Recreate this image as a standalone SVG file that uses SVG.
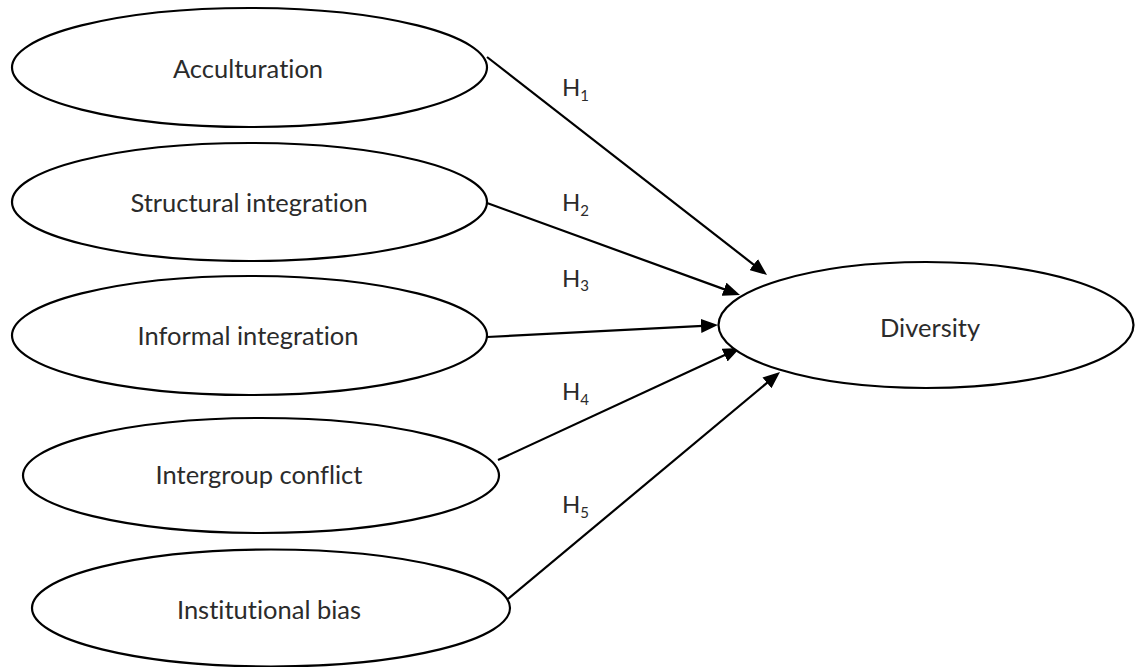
<svg xmlns="http://www.w3.org/2000/svg" width="1135" height="667" viewBox="0 0 1135 667">
<style>
.node ellipse{fill:#fff;stroke:#000;stroke-width:2.2}
.node text{font-family:Lato,"Open Sans","Liberation Sans",sans-serif;font-size:25.5px;fill:#2b2b2b;text-anchor:middle;font-variant-ligatures:none}
.edge line{stroke:#000;stroke-width:2.2}
.lbl{font-family:Lato,"Open Sans","Liberation Sans",sans-serif;font-size:24px;fill:#2b2b2b}
.sub{font-size:15px}
</style>
<defs>
<marker id="arr" markerUnits="userSpaceOnUse" markerWidth="17" markerHeight="14" refX="2" refY="7" orient="auto">
<path d="M0,0 L17,7 L0,14 z" fill="#000"/>
</marker>
</defs>
<rect width="1135" height="667" fill="#fff"/>
<g id="connectors" class="edge">
<line x1="487" y1="57" x2="755.2" y2="265.8" marker-end="url(#arr)"/>
<line x1="487" y1="203" x2="725.9" y2="289.9" marker-end="url(#arr)"/>
<line x1="487" y1="337" x2="703" y2="325.8" marker-end="url(#arr)"/>
<line x1="498" y1="460" x2="726.4" y2="354.3" marker-end="url(#arr)"/>
<line x1="508" y1="599" x2="768.5" y2="381.6" marker-end="url(#arr)"/>
</g>
<g id="labels">
<text class="lbl" x="562" y="96">H<tspan class="sub" dy="5">1</tspan></text>
<text class="lbl" x="562" y="211">H<tspan class="sub" dy="5">2</tspan></text>
<text class="lbl" x="562" y="287">H<tspan class="sub" dy="4">3</tspan></text>
<text class="lbl" x="562" y="400">H<tspan class="sub" dy="5">4</tspan></text>
<text class="lbl" x="562" y="513">H<tspan class="sub" dy="5">5</tspan></text>
</g>
<g id="acculturation" class="node">
<ellipse cx="249.5" cy="67.5" rx="237.5" ry="59.5"/>
<text x="248" y="78">Acculturation</text>
</g>
<g id="structural" class="node">
<ellipse cx="249.5" cy="202" rx="237.5" ry="59"/>
<text x="249" y="212">Structural integration</text>
</g>
<g id="informal" class="node">
<ellipse cx="249.5" cy="335.5" rx="237.5" ry="59.5"/>
<text x="248" y="345">Informal integration</text>
</g>
<g id="intergroup" class="node">
<ellipse cx="261" cy="475.5" rx="238" ry="57.5"/>
<text x="259" y="484">Intergroup conflict</text>
</g>
<g id="institutional" class="node">
<ellipse cx="271" cy="608" rx="239" ry="58.5"/>
<text x="269" y="619">Institutional bias</text>
</g>
<g id="diversity" class="node">
<ellipse cx="926" cy="325" rx="207.5" ry="63"/>
<text x="930" y="337">Diversity</text>
</g>
</svg>
